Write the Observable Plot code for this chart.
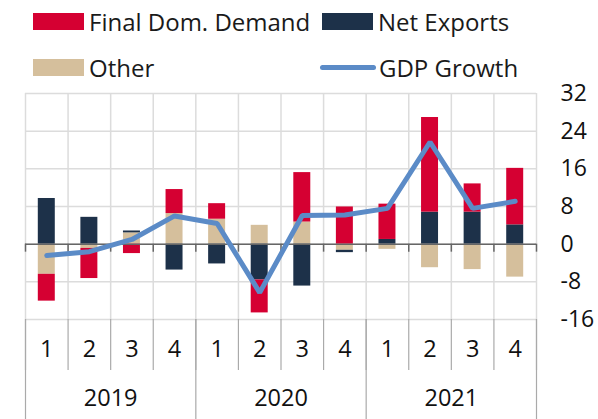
<!DOCTYPE html>
<html>
<head>
<meta charset="utf-8">
<script src="https://cdn.jsdelivr.net/npm/d3@7"></script>
<script src="https://cdn.jsdelivr.net/npm/@observablehq/plot@0.6"></script>
<style>
  body { margin: 0; background: #fff; font-family: "Open Sans", sans-serif; }
  #wrap { width: 598px; height: 419px; position: relative; }
  #legend { position: relative; height: 73px; width: 598px; font-size: 24px; color: #1a1a1a; }
  .item { position: absolute; display: flex; align-items: center; height: 28px; }
  .sw { width: 51px; height: 17px; margin-right: 5px; }
  .ln { width: 56px; height: 5px; border-radius: 3px; margin-right: 3px; }
  svg { display: block; overflow: visible; }
</style>
</head>
<body>
<div id="wrap">
  <div id="legend"></div>
  <div id="chart"></div>
</div>
<script>
const quarters = ["1","2","3","4","1","2","3","4","1","2","3","4"];
const years = ["2019","2020","2021"];
const seriesNames = ["Final Dom. Demand", "Net Exports", "Other"];
const finalDomDemand = [-5.7, -6.4, -2.0, 5.1, 3.3, -7.0, 10.5, 7.9, 7.5, 20.1, 6.0, 12.0];
const netExports     = [9.7, 5.7, 0.4, -5.5, -4.2, -7.6, -8.9, -0.5, 1.0, 6.8, 6.8, 4.1];
const other          = [-6.4, -0.9, 2.4, 6.5, 5.3, 4.0, 4.7, -1.3, -1.1, -5.0, -5.4, -7.0];
const gdpGrowth      = [-2.4, -1.6, 1.0, 6.0, 4.4, -10.3, 6.1, 6.2, 7.6, 21.7, 7.6, 9.1];
const yTicks = [-16, -8, 0, 8, 16, 24, 32];

const colors = {"Final Dom. Demand": "#d50032", "Net Exports": "#1d3149", "Other": "#d5bf9c"};
const lineColor = "#5b8bc7";

// Stack order from zero: Other, Net Exports, Final Dom. Demand
const bars = [];
quarters.forEach((q, i) => {
  bars.push({i, series: "Other", value: other[i]});
  bars.push({i, series: "Net Exports", value: netExports[i]});
  bars.push({i, series: "Final Dom. Demand", value: finalDomDemand[i]});
});
const gdp = gdpGrowth.map((v, i) => ({i, v}));
const qLabels = quarters.map((q, i) => ({i, q}));
const yLabels = years.map((y, k) => ({pos: k * 4 + 2, y}));

// legend
const legend = document.getElementById("legend");
const items = [
  {name: "Final Dom. Demand", left: 33, top: 7, type: "sw"},
  {name: "Net Exports", left: 322, top: 7, type: "sw"},
  {name: "Other", left: 33, top: 53, type: "sw"},
  {name: "GDP Growth", left: 320, top: 53, type: "ln"}
];
for (const it of items) {
  const d = document.createElement("div");
  d.className = "item";
  d.style.left = it.left + "px";
  d.style.top = it.top + "px";
  const s = document.createElement("div");
  s.className = it.type;
  s.style.background = it.type === "ln" ? lineColor : colors[it.name];
  const t = document.createElement("span");
  t.textContent = it.name;
  d.appendChild(s); d.appendChild(t);
  legend.appendChild(d);
}

const marginTop = 20, marginBottom = 100, height = 346;
const plotH = height - marginTop - marginBottom;

const chart = Plot.plot({
  width: 598,
  height,
  marginLeft: 25,
  marginRight: 62,
  marginTop,
  marginBottom,
  style: {fontFamily: "Open Sans, sans-serif", fontSize: "23px", color: "#111", background: "transparent"},
  x: {domain: [0, 12], axis: null},
  y: {domain: [-16, 32], axis: null},
  color: {domain: seriesNames, range: seriesNames.map(s => colors[s])},
  marks: [
    Plot.ruleY(yTicks, {stroke: "#dcdcdc", strokeWidth: 1.5}),
    Plot.ruleX(d3.range(13), {stroke: "#dcdcdc", strokeWidth: 1.5}),
    Plot.rectY(bars, {x: "i", interval: 1, y: "value", fill: "series", insetLeft: 12.8, insetRight: 12.8}),
    Plot.ruleY([0], {stroke: "#666", strokeWidth: 1.5}),
    Plot.ruleX(d3.range(13), {y1: 0, y2: 0, insetBottom: -8, stroke: "#666", strokeWidth: 1.5}),
    Plot.ruleX(d3.range(13), {insetTop: plotH, insetBottom: -51, stroke: "#aaa", strokeWidth: 1.2}),
    Plot.ruleX(d3.range(0, 13, 4), {insetTop: plotH, insetBottom: -100, stroke: "#aaa", strokeWidth: 1.2}),
    Plot.line(gdp, {x: d => d.i + 0.5, y: "v", stroke: lineColor, strokeWidth: 5, strokeLinejoin: "miter"}),
    Plot.text(qLabels, {x: d => d.i + 0.5, text: "q", frameAnchor: "bottom", dy: 37, fontSize: 23.5, fill: "#111"}),
    Plot.text(yLabels, {x: "pos", text: "y", frameAnchor: "bottom", dy: 86, fontSize: 23.5, fill: "#111"}),
    Plot.axisY(yTicks, {anchor: "right", tickSize: 0, tickPadding: 24, textAnchor: "start", fontSize: 23, fill: "#111", tickFormat: d => String(d)})
  ]
});
document.getElementById("chart").appendChild(chart);
</script>
</body>
</html>
